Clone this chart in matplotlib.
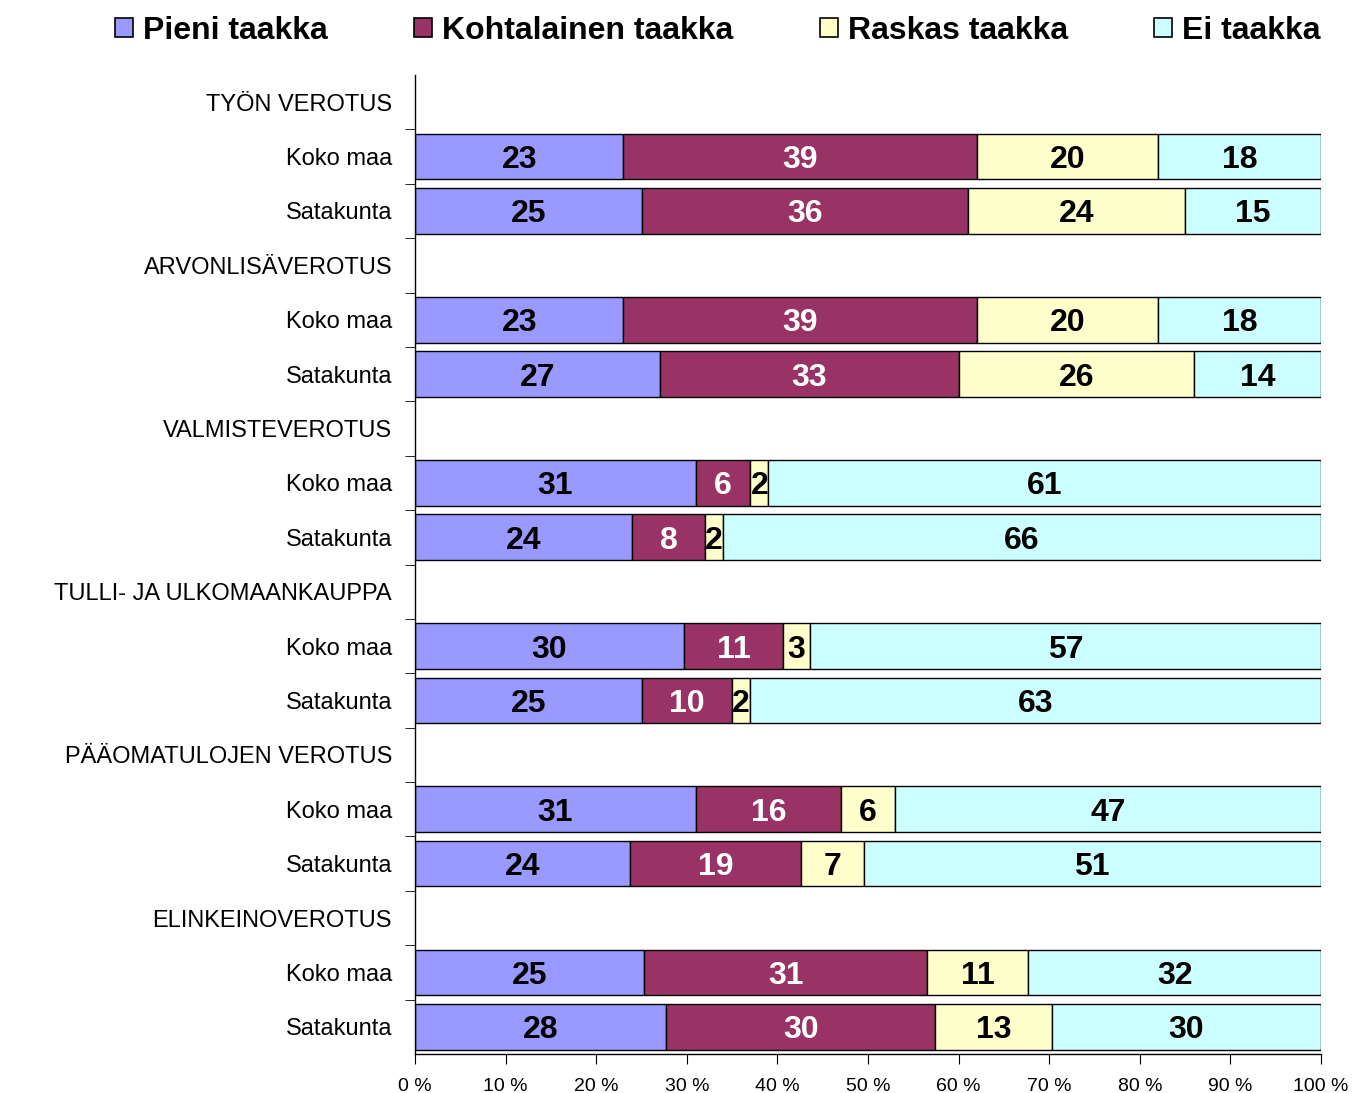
import numpy as np
import matplotlib
matplotlib.use("Agg")
import matplotlib.pyplot as plt
from matplotlib.patches import Patch

# data (percent of respondents)
groups = ["TYÖN VEROTUS", "ARVONLISÄVEROTUS", "VALMISTEVEROTUS",
          "TULLI- JA ULKOMAANKAUPPA", "PÄÄOMATULOJEN VEROTUS", "ELINKEINOVEROTUS"]
regions = ["Koko maa", "Satakunta"]
series = ["Pieni taakka", "Kohtalainen taakka", "Raskas taakka", "Ei taakka"]
colors = ["#9999FF", "#993366", "#FFFFCC", "#CCFFFF"]
label_colors = ["black", "white", "black", "black"]

koko_maa = [[23, 39, 20, 18],
            [23, 39, 20, 18],
            [31, 6, 2, 61],
            [30, 11, 3, 57],
            [31, 16, 6, 47],
            [25, 31, 11, 32]]
satakunta = [[25, 36, 24, 15],
             [27, 33, 26, 14],
             [24, 8, 2, 66],
             [25, 10, 2, 63],
             [24, 19, 7, 51],
             [28, 30, 13, 30]]

plain = ["Liberation Sans", "DejaVu Sans"]

fig = plt.figure(figsize=(13.53, 10.93), dpi=100)
ax = fig.add_axes([415 / 1353, 1 - 1054 / 1093, 906 / 1353, 979 / 1093])

ylabels = []
ypos = []
row = 0
for g, name in enumerate(groups):
    ylabels.append(name)
    ypos.append(row)
    row += 1
    for vals, reg in ((koko_maa[g], regions[0]), (satakunta[g], regions[1])):
        vals = np.array(vals, dtype=float)
        shares = vals / vals.sum() * 100
        left = 0.0
        for k in range(4):
            ax.barh(row, shares[k], left=left, height=0.84, color=colors[k],
                    edgecolor="black", linewidth=1.0)
            ax.text(left + shares[k] / 2, row, "%d" % vals[k], ha="center",
                    va="center_baseline", fontsize=23, fontweight="bold",
                    color=label_colors[k], family=plain)
            left += shares[k]
        ylabels.append(reg)
        ypos.append(row)
        row += 1

ax.set_xlim(0, 100)
ax.set_ylim(row - 0.5, -0.5)
ax.set_yticks(ypos)
ax.set_yticklabels(ylabels, fontsize=17, family=plain)
ax.tick_params(axis="y", which="major", length=0, pad=16.5)
ax.set_yticks(np.arange(0.5, row - 1, 1.0), minor=True)
ax.tick_params(axis="y", which="minor", length=7, direction="out", color="black")

ax.set_xticks(np.arange(0, 101, 10))
ax.set_xticklabels(["%d %%" % v for v in range(0, 101, 10)], fontsize=14,
                   family=plain)
ax.tick_params(axis="x", length=7, direction="out", pad=10)

for s in ["top", "right"]:
    ax.spines[s].set_visible(False)
ax.spines["left"].set_linewidth(1.0)
ax.spines["bottom"].set_linewidth(1.0)

handles = [Patch(facecolor=c, edgecolor="black", linewidth=1.2) for c in colors]
fig.legend(handles, series, loc="upper center", bbox_to_anchor=(718 / 1353, 1.012),
           ncol=4, frameon=False, columnspacing=2.7, handlelength=0.56,
           handleheight=0.56, handletextpad=0.32,
           prop={"family": plain, "weight": "bold", "size": 23})

fig.savefig("out.png", dpi=100)
